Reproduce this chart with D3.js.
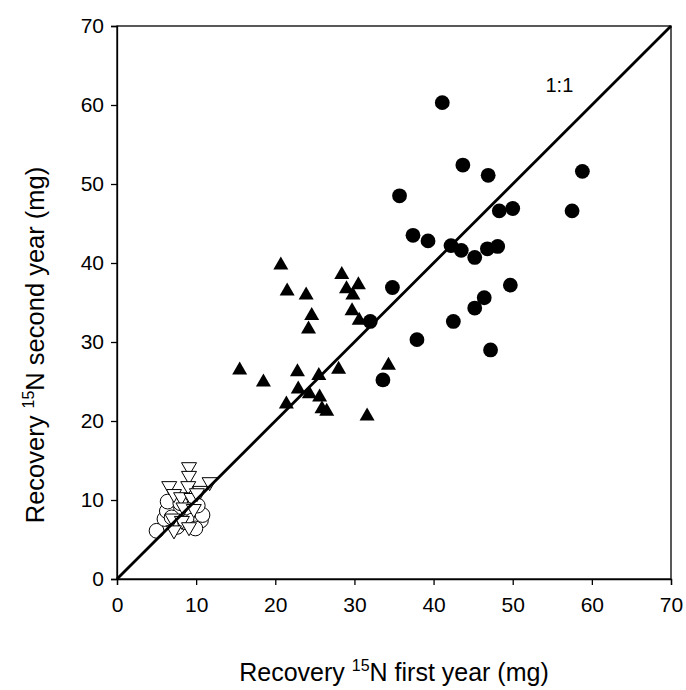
<!DOCTYPE html>
<html>
<head>
<meta charset="utf-8">
<script src="https://cdn.jsdelivr.net/npm/d3@7"></script>
<style>
  html, body { margin: 0; padding: 0; background: #fff; }
  svg { display: block; font-family: "Liberation Sans", Arial, sans-serif; }
</style>
</head>
<body>
<svg id="chart" width="686" height="690"></svg>
<script>
// Ticks shared by both axes (mg)
const ticks = [0, 10, 20, 30, 40, 50, 60, 70];

// Filled circles: [first year, second year]
const filledCircles = [
  [41.1, 60.3], [43.7, 52.4], [46.9, 51.1], [58.8, 51.6], [35.7, 48.5],
  [48.3, 46.6], [50.0, 46.9], [57.5, 46.6], [37.4, 43.5], [39.3, 42.8],
  [42.2, 42.2], [43.5, 41.6], [45.2, 40.7], [46.8, 41.8], [48.1, 42.1],
  [49.7, 37.2], [34.8, 36.9], [46.4, 35.6], [45.2, 34.3], [42.5, 32.6],
  [32.0, 32.6], [37.9, 30.3], [47.2, 29.0], [33.6, 25.2]
];

// Filled up-triangles
const filledTriangles = [
  [20.7, 40.0], [28.4, 38.8], [21.5, 36.7], [23.9, 36.2], [29.0, 37.0],
  [30.5, 37.5], [29.8, 36.2], [29.7, 34.2], [24.6, 33.6], [30.6, 33.0],
  [24.2, 31.9], [15.5, 26.7], [18.5, 25.2], [22.8, 26.5], [28.0, 26.8],
  [25.5, 26.0], [22.9, 24.3], [24.3, 23.7], [25.6, 23.3], [21.4, 22.4],
  [25.9, 21.8], [26.5, 21.5], [31.6, 20.9], [34.3, 27.3]
];

// Open circles
const openCircles = [
  [5.0, 6.1], [6.0, 7.6], [6.3, 8.6], [6.4, 9.8], [6.9, 7.8],
  [7.6, 6.6], [8.6, 7.2], [9.5, 7.4], [10.6, 7.4], [10.8, 8.1],
  [10.2, 9.3], [9.9, 6.4], [8.0, 9.6]
];

// Open down-triangles
const openTriangles = [
  [9.1, 13.9], [9.1, 12.8], [6.6, 11.5], [9.0, 11.5], [11.7, 12.0],
  [10.5, 10.9], [7.2, 10.5], [8.1, 10.1], [9.4, 10.0], [8.4, 8.8],
  [9.7, 8.6], [7.0, 7.4], [8.2, 7.1], [9.1, 6.3], [7.2, 5.9], [10.1, 10.6]
];

// Reference line
const oneToOne = [[0, 0], [70, 70]];

const svg = d3.select("#chart");
const mLeft = 117, mRight = 671, mTop = 26, mBottom = 579;

const x = d3.scaleLinear().domain([0, 70]).range([mLeft, mRight]);
const y = d3.scaleLinear().domain([0, 70]).range([mBottom, mTop]);

// frame
svg.append("rect")
  .attr("x", mLeft).attr("y", mTop)
  .attr("width", mRight - mLeft).attr("height", mBottom - mTop)
  .attr("fill", "none").attr("stroke", "#000").attr("stroke-width", 1.3);

// axes
const xAxis = svg.append("g")
  .attr("transform", `translate(0,${mBottom})`)
  .call(d3.axisBottom(x).tickValues(ticks).tickSize(6).tickPadding(12));
const yAxis = svg.append("g")
  .attr("transform", `translate(${mLeft},0)`)
  .call(d3.axisLeft(y).tickValues(ticks).tickSize(6).tickPadding(7));

[xAxis, yAxis].forEach(g => {
  g.select(".domain").attr("stroke", "#000").attr("stroke-width", 1.3);
  g.selectAll(".tick line").attr("stroke", "#000").attr("stroke-width", 1.3);
  g.selectAll(".tick text")
    .attr("fill", "#000")
    .style("font-family", "'Liberation Sans', Arial, sans-serif")
    .style("font-size", "21px");
});

// marker shapes
const tw = 15, th = 13;
function upTri(cx, cy) {
  const p = d3.path();
  p.moveTo(cx, cy - th / 2);
  p.lineTo(cx + tw / 2, cy + th / 2);
  p.lineTo(cx - tw / 2, cy + th / 2);
  p.closePath();
  return p.toString();
}
function downTri(cx, cy) {
  const p = d3.path();
  p.moveTo(cx - tw / 2, cy - th / 2);
  p.lineTo(cx + tw / 2, cy - th / 2);
  p.lineTo(cx, cy + th / 2);
  p.closePath();
  return p.toString();
}

const r = 7.4;

// open markers
svg.append("g").selectAll("circle")
  .data(openCircles).join("circle")
  .attr("cx", d => x(d[0])).attr("cy", d => y(d[1])).attr("r", r)
  .attr("fill", "#fff").attr("stroke", "#000").attr("stroke-width", 1);

svg.append("g").selectAll("path")
  .data(openTriangles).join("path")
  .attr("d", d => downTri(x(d[0]), y(d[1])))
  .attr("fill", "#fff").attr("stroke", "#000").attr("stroke-width", 1);

// 1:1 line
svg.append("path")
  .datum(oneToOne)
  .attr("d", d3.line().x(d => x(d[0])).y(d => y(d[1])))
  .attr("stroke", "#000").attr("stroke-width", 2.8).attr("fill", "none");

// filled markers
svg.append("g").selectAll("path")
  .data(filledTriangles).join("path")
  .attr("d", d => upTri(x(d[0]), y(d[1])))
  .attr("fill", "#000");

svg.append("g").selectAll("circle")
  .data(filledCircles).join("circle")
  .attr("cx", d => x(d[0])).attr("cy", d => y(d[1])).attr("r", r)
  .attr("fill", "#000");

// line label
svg.append("text")
  .attr("x", x(55.9)).attr("y", y(61.6))
  .attr("text-anchor", "middle")
  .style("font-size", "20px")
  .text("1:1");

// axis titles
const xt = svg.append("text")
  .attr("x", (mLeft + mRight) / 2).attr("y", 681)
  .attr("text-anchor", "middle")
  .style("font-size", "25px");
xt.append("tspan").text("Recovery ");
xt.append("tspan").attr("dy", -10).style("font-size", "16px").text("15");
xt.append("tspan").attr("dy", 10).text("N first year (mg)");

const yt = svg.append("text")
  .attr("transform", `translate(44,345) rotate(-90)`)
  .attr("text-anchor", "middle")
  .style("font-size", "25.5px");
yt.append("tspan").text("Recovery ");
yt.append("tspan").attr("dy", -10).style("font-size", "16px").text("15");
yt.append("tspan").attr("dy", 10).text("N second year (mg)");
</script>
</body>
</html>
